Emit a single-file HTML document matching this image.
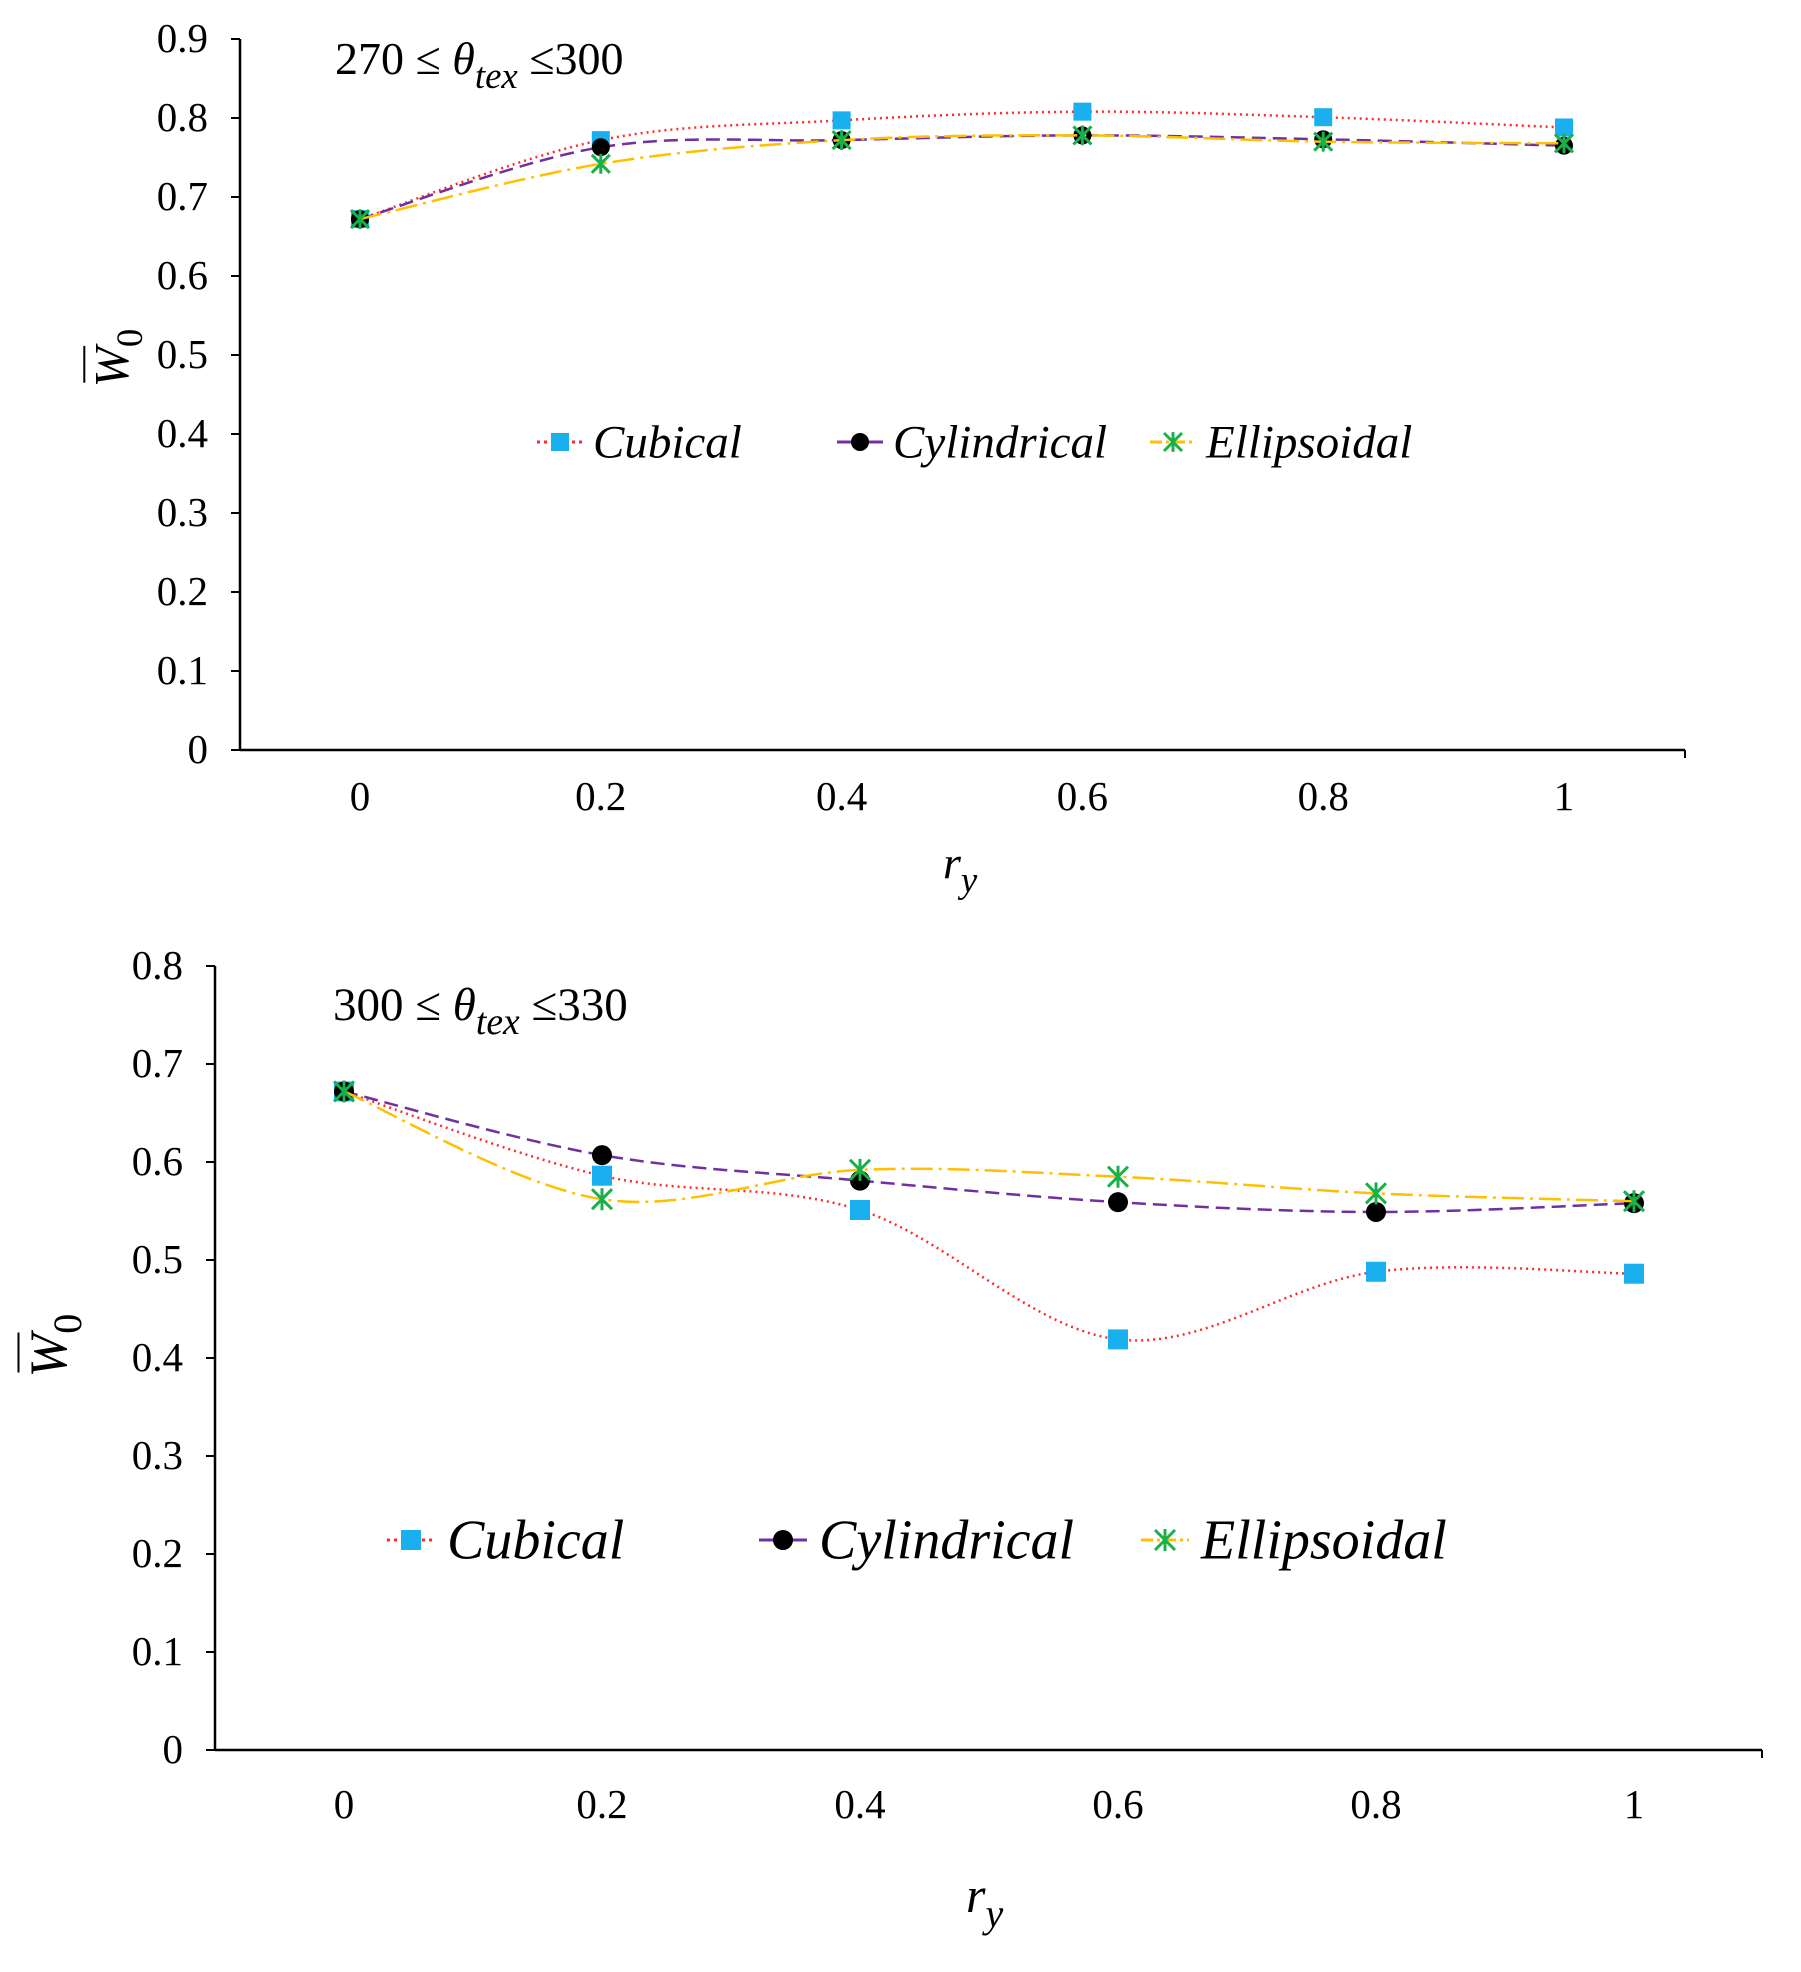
<!DOCTYPE html>
<html><head><meta charset="utf-8"><style>
html,body{margin:0;padding:0;background:#fff;}
svg{display:block;font-family:"Liberation Serif",serif;}
</style></head><body>
<svg id="chart" width="1801" height="1972" viewBox="0 0 1801 1972"></svg>
<script>
const categories = [0, 0.2, 0.4, 0.6, 0.8, 1];
const xTickLabels = ["0","0.2","0.4","0.6","0.8","1"];
const topCubical = [0.672, 0.772, 0.797, 0.808, 0.801, 0.788];
const topCylindrical = [0.672, 0.763, 0.772, 0.778, 0.773, 0.765];
const topEllipsoidal = [0.672, 0.742, 0.772, 0.778, 0.770, 0.768];
const botCubical = [0.672, 0.586, 0.551, 0.419, 0.488, 0.486];
const botCylindrical = [0.672, 0.607, 0.581, 0.559, 0.549, 0.558];
const botEllipsoidal = [0.672, 0.562, 0.592, 0.585, 0.568, 0.560];
const topYTicks = [0,0.1,0.2,0.3,0.4,0.5,0.6,0.7,0.8,0.9];
const botYTicks = [0,0.1,0.2,0.3,0.4,0.5,0.6,0.7,0.8];
const seriesNames = ["Cubical","Cylindrical","Ellipsoidal"];

const NS="http://www.w3.org/2000/svg";
const svg=document.getElementById('chart');
function mk(tag,attrs,parent,text){const e=document.createElementNS(NS,tag);for(const k in attrs)e.setAttribute(k,attrs[k]);if(text!==undefined)e.textContent=text;(parent||svg).appendChild(e);return e;}

function smoothPath(pts){
  let d="M"+pts[0][0]+","+pts[0][1];
  for(let i=0;i<pts.length-1;i++){
    const p0=pts[i-1]||pts[i],p1=pts[i],p2=pts[i+1],p3=pts[i+2]||p2;
    const c1=[p1[0]+(p2[0]-p0[0])/6,p1[1]+(p2[1]-p0[1])/6];
    const c2=[p2[0]-(p3[0]-p1[0])/6,p2[1]-(p3[1]-p1[1])/6];
    d+=" C"+c1+" "+c2+" "+p2;
  }
  return d;
}
const styles=[
  {stroke:"#ff2a2a",dash:"2,4",w:2.5},
  {stroke:"#7030a0",dash:"14,7",w:2.5},
  {stroke:"#ffc000",dash:"22,6,3,6",w:2.5}
];
function marker(g,i,x,y,s){
  if(i===0){const m=mk('rect',{x:x-s,y:y-s,width:2*s,height:2*s,fill:"#1ab0ef"},g);}
  else if(i===1){const m=mk('circle',{cx:x,cy:y,r:s,fill:"#000"},g);}
  else{const m=mk('path',{d:`M${x-s},${y-s}L${x+s},${y+s}M${x-s},${y+s}L${x+s},${y-s}M${x},${y-s*1.1}L${x},${y+s*1.1}`,stroke:"#18b04a","stroke-width":3,fill:"none"},g);}
}

function drawChart(cfg){
  const g=mk('g',{});
  
  
  const yMax=cfg.yTicks[cfg.yTicks.length-1];
  const xs=v=>cfg.x0+(cfg.x1-cfg.x0)*v;
  const ys=v=>cfg.y0-(cfg.y0-cfg.yTop)*v/yMax;
  const ya=mk('line',{x1:cfg.ax,y1:cfg.yTop,x2:cfg.ax,y2:cfg.y0,stroke:"#000","stroke-width":2.5},g);
  
  const xa=mk('line',{x1:cfg.ax,y1:cfg.y0,x2:cfg.axEnd,y2:cfg.y0,stroke:"#000","stroke-width":2.5},g);
  
  mk('line',{x1:cfg.axEnd,y1:cfg.y0,x2:cfg.axEnd,y2:cfg.y0+8,stroke:"#000","stroke-width":2},g);
  cfg.yTicks.forEach(t=>{
    mk('line',{x1:cfg.ax-9,y1:ys(t),x2:cfg.ax,y2:ys(t),stroke:"#000","stroke-width":2},g);
    const l=mk('text',{x:cfg.ax-32,y:ys(t)+13,"text-anchor":"end","font-size":cfg.tickSz},g,String(t));
    
  });
  categories.forEach((c,i)=>{
    const l=mk('text',{x:xs(c),y:cfg.xLabY,"text-anchor":"middle","font-size":cfg.tickSz},g,xTickLabels[i]);
    
  });
  const xt=mk('text',{x:cfg.xTitleX,y:cfg.xTitleY,"font-size":cfg.tsz,"font-style":"italic"},g);
  
  mk('tspan',{},xt,"r");mk('tspan',{dy:cfg.tsz*0.3,"font-size":cfg.tsz*0.8},xt,"y");
  const ytg=mk('g',{transform:`translate(${cfg.yTitleX},${cfg.yTitleY}) rotate(-90)`},g);
  
  const yt=mk('text',{x:-cfg.tsz*0.55,y:0,"font-size":cfg.tsz*1.05,"font-style":"italic"},ytg);
  mk('tspan',{},yt,"W");mk('tspan',{dy:cfg.tsz*0.3,"font-size":cfg.tsz*0.8,"font-style":"normal"},yt,"0");
  mk('line',{x1:-cfg.tsz*0.45,y1:-cfg.tsz*0.95,x2:cfg.tsz*0.35,y2:-cfg.tsz*0.95,stroke:"#000","stroke-width":2},ytg);
  const an=mk('text',{x:cfg.annX,y:cfg.annY,"font-size":cfg.annSz},g);
  
  mk('tspan',{},an,cfg.annA+" \u2264 ");mk('tspan',{"font-style":"italic"},an,"\u03b8");
  mk('tspan',{dy:cfg.annSz*0.3,"font-size":cfg.annSz*0.8,"font-style":"italic"},an,"tex");
  mk('tspan',{dy:-cfg.annSz*0.3},an," \u2264"+cfg.annB);
  cfg.series.forEach((vals,i)=>{
    const sg=mk('g',{},g);
    
    
    const pts=categories.map((c,j)=>[xs(c),ys(vals[j])]);
    mk('path',{d:smoothPath(pts),fill:"none",stroke:styles[i].stroke,"stroke-width":styles[i].w,"stroke-dasharray":styles[i].dash},sg);
    pts.forEach(p=>marker(sg,i,p[0],p[1],cfg.ms));
  });
  const lg=mk('g',{},g);
  
  cfg.legX.forEach((lx,i)=>{
    const eg=mk('g',{},lg);
    
    
    mk('line',{x1:lx,y1:cfg.legY,x2:lx+cfg.legLen,y2:cfg.legY,stroke:styles[i].stroke,"stroke-width":3,"stroke-dasharray":i===0?"3,4":(i===1?"none":"12,4,3,4")},eg);
    marker(eg,i,lx+cfg.legLen/2,cfg.legY,cfg.ms);
    mk('text',{x:lx+cfg.legLen+cfg.gap,y:cfg.legY+cfg.legSz*0.33,"font-size":cfg.legSz,"font-style":"italic"},eg,seriesNames[i]);
  });
}

drawChart({name:"top-chart",ax:240,axEnd:1685,x0:360,x1:1564,y0:750,yTop:39,yTicks:topYTicks,tickSz:41,
  xLabY:810,xTitleX:943,xTitleY:878,tsz:46,yTitleX:128,yTitleY:362,
  annX:335,annY:74,annSz:46,annA:"270",annB:"300",
  series:[topCubical,topCylindrical,topEllipsoidal],ms:9,
  legX:[537,837,1150],legY:442,legLen:46,gap:10,legSz:47});
drawChart({name:"bottom-chart",ax:215,axEnd:1762,x0:344,x1:1634,y0:1750,yTop:966,yTicks:botYTicks,tickSz:41,
  xLabY:1818,xTitleX:966,xTitleY:1912,tsz:50,yTitleX:66,yTitleY:1350,
  annX:333,annY:1020,annSz:47,annA:"300",annB:"330",
  series:[botCubical,botCylindrical,botEllipsoidal],ms:10,
  legX:[387,759,1141],legY:1540,legLen:48,gap:12,legSz:56});
</script>
</body></html>
